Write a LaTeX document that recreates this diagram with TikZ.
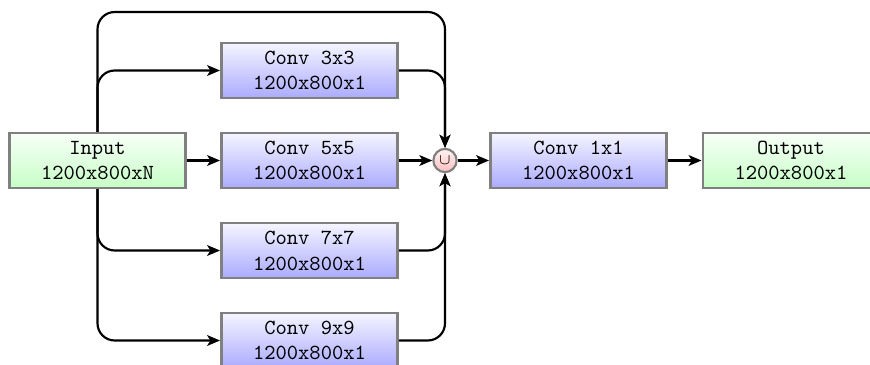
\documentclass[tikz,border=0pt]{standalone}
\usetikzlibrary{arrows.meta}
\begin{document}
\begin{tikzpicture}[x=0.465pt,y=-0.465pt,
  convbox/.style={draw=gray,line width=1.2pt,top color=blue!4,bottom color=blue!33,
    minimum width=82pt,minimum height=25.5pt,align=center,font=\ttfamily,inner sep=0pt},
  iobox/.style={convbox,top color=green!3,bottom color=green!22},
  unionnode/.style={circle,draw=gray,line width=1pt,top color=red!5,bottom color=red!25,
    minimum size=10.8pt,inner sep=0pt,font=\scriptsize},
  conn/.style={line width=1pt,-{Stealth[length=6pt,width=5pt,inset=1.5pt]},rounded corners=8pt}]
\useasboundingbox (0,0) rectangle (870,365);
\clip (0,0) rectangle (870,365);
\node[iobox] (in) at (97.5,160.5) {Input\\1200x800xN};
\node[convbox] (c3) at (309.5,70.5) {Conv 3x3\\1200x800x1};
\node[convbox] (c5) at (309.5,160.5) {Conv 5x5\\1200x800x1};
\node[convbox] (c7) at (309.5,250.5) {Conv 7x7\\1200x800x1};
\node[convbox] (c9) at (309.5,340.5) {Conv 9x9\\1200x800x1};
\node[unionnode] (u) at (445,160.5) {$\cup$};
\node[convbox] (c1) at (578.5,160.5) {Conv 1x1\\1200x800x1};
\node[iobox] (out) at (791,160.5) {Output\\1200x800x1};
\coordinate (tl) at (97.5,12);
\coordinate (tr) at (445,12);
\draw[conn] (in.north) -- (tl) -- (tr) -- (u.north);
\draw[conn] (in.north) |- (c3.west);
\draw[conn] (in.east) -- (c5.west);
\draw[conn] (in.south) |- (c7.west);
\draw[conn] (in.south) |- (c9.west);
\draw[conn] (c3.east) -| (u.north);
\draw[conn] (c5.east) -- (u.west);
\draw[conn] (c7.east) -| (u.south);
\draw[conn] (c9.east) -| (u.south);
\draw[conn] (u.east) -- (c1.west);
\draw[conn] (c1.east) -- (out.west);
\end{tikzpicture}
\end{document}
